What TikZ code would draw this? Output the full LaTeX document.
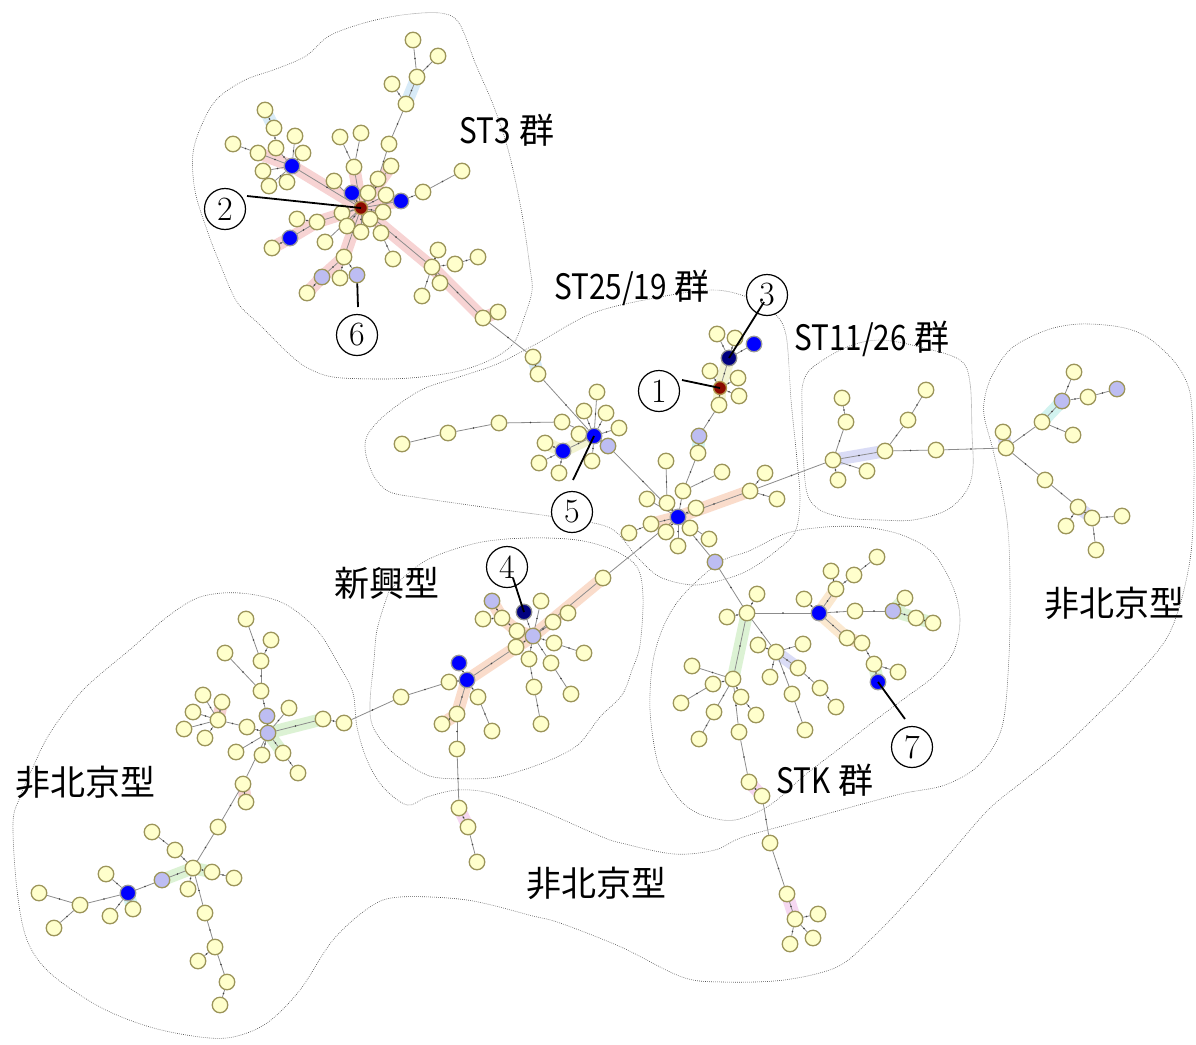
\documentclass[tikz,border=0pt]{standalone}
\usepackage{fontspec}
\newfontfamily\jp{Noto Sans CJK JP}
\newfontfamily\jplat[FakeStretch=0.85]{Noto Sans CJK JP}
\definecolor{ynfill}{HTML}{FFFFCC}
\definecolor{ynline}{HTML}{9C955A}
\definecolor{lavfill}{HTML}{BDBDF2}
\definecolor{navyfill}{HTML}{000080}
\definecolor{redfill}{HTML}{8B0A00}
\definecolor{hpink}{HTML}{F7D3D3}
\definecolor{hblue}{HTML}{D8EBF8}
\definecolor{hyel}{HTML}{F3F4D2}
\definecolor{hcyan}{HTML}{D2F3F0}
\definecolor{hpeach}{HTML}{FADCCB}
\definecolor{hlav}{HTML}{DADCF6}
\definecolor{hgreen}{HTML}{DCF2D4}
\definecolor{hmag}{HTML}{F6D8F2}
\definecolor{horange}{HTML}{FBE8CF}
\pgfdeclarelayer{bglayer}
\pgfdeclarelayer{hlayer}
\pgfdeclarelayer{elayer}
\pgfsetlayers{bglayer,hlayer,elayer,main}
\tikzset{
  yn/.style={circle,draw=ynline,fill=ynfill,line width=1.3pt,minimum size=15.5pt,inner sep=0pt},
  bn/.style={yn,draw=black!40,fill=blue},
  nvn/.style={yn,draw=black!45,fill=navyfill},
  rdn/.style={yn,draw=ynline!80!orange,fill=redfill,minimum size=13pt},
  lvn/.style={yn,fill=lavfill},
  edge/.style={draw=black!45,line width=0.8pt},
  dotm/.style={circle,fill=black!75,inner sep=0pt,minimum size=1.8pt},
  hlt/.style={line width=12.5pt,line cap=round},
  contour/.style={draw=black!70,line width=0.6pt,dash pattern=on 0.7pt off 1.3pt},
  grp/.style={font=\jp\fontsize{35}{35}\selectfont,inner sep=0pt},
  numc/.style={circle,draw,line width=1.2pt,minimum size=41pt,inner sep=0pt,fill=white,font=\fontsize{34}{34}\selectfont},
  lead/.style={draw=black,line width=1.8pt}
}
\begin{document}
\begin{tikzpicture}[x=1pt,y=-1pt]
\useasboundingbox (0,0) rectangle (1196,1044);
\begin{pgfonlayer}{bglayer}
\fill[white] (0,0) rectangle (1196,1044);
\end{pgfonlayer}
% ---------- nodes ----------
\foreach \n/\x/\y in {a1/413/40,a2/438/56,a3/417/77,a4/392/84,a5/406/104,a6/389/144,a7/265/110,a8/274/128,a9/233/144,a10/258/153,a11/276/148,a12/295/136,a13/303/153,a15/263/171,a16/287/182,a17/269/186,a18/340/137,a19/361/133,a20/354/167,a21/334/181,a23/368/193,a24/378/179,a25/391/166,a26/386/195,a28/423/192,a29/462/171,a30/342/213,a31/383/212,a32/370/219,a33/347/226,a34/361/232,a35/381/233,a36/317/222,a37/297/219,a39/272/248,a40/325/242,a41/393/259,a42/344/257,a44/340/278,a46/307/293,a47/432/267,a48/438/250,a49/455/264,a50/478/257,a51/440/283,a52/422/296,a53/483/318,a54/498/312,
b1/533/357,b2/538/374,b4/597/392,b5/584/411,b6/606/413,b7/562/422,b8/619/428,b9/579/434,b11/545/443,b13/592/461,b14/539/463,b15/559/473,b16/499/423,b17/448/433,b18/402/444,b20/717/334,b21/735/338,b24/710/371,b25/738/378,b27/739/396,b28/719/405,b30/698/453,b31/666/461,b32/722/472,b33/765/473,b34/683/491,b35/750/491,b36/777/499,b37/647/499,b38/667/503,b39/696/508,b41/651/524,b42/629/533,b43/666/532,b44/690/528,b45/678/546,b46/709/539,
c1/833/460,c2/885/451,c3/936/450,c4/908/420,c5/926/390,c6/846/422,c7/842/398,c8/867/471,c9/838/480,
r1/1006/448,r2/1003/432,r3/1042/422,r5/1074/372,r6/1088/397,r8/1073/435,r9/1045/480,r10/1078/507,r11/1092/518,r12/1122/516,r13/1066/526,r14/1096/550,
e1/603/578,e2/541/601,e5/568/613,e6/553/622,e7/502/618,e8/483/619,e9/517/631,e11/554/643,e12/584/653,e13/516/647,e14/529/659,e15/551/663,e18/449/682,e19/478/697,e20/401/697,e21/534/687,e22/571/694,e23/457/714,e24/442/724,e25/492/731,e26/541/724,e27/457/749,e28/459/808,e29/468/827,e30/477/862,
s1/747/613,s2/757/594,s3/727/617,s5/804/599,s6/836/589,s7/831/571,s8/854/575,s9/877/557,s10/855/611,s12/905/598,s13/916/618,s14/933/623,s15/847/638,s16/862/643,s17/874/664,s18/898/672,s20/776/652,s21/758/645,s22/803/644,s23/798/668,s24/820/688,s25/836/707,s26/770/677,s27/792/694,s28/805/730,s29/733/679,s30/692/666,s31/713/684,s32/681/703,s33/741/697,s34/756/715,s35/714/712,s36/699/739,s37/739/732,s38/749/782,s39/762/796,s40/770/843,s41/787/894,s42/795/919,s43/818/914,s44/813/938,s45/790/944,
L1/246/619,L2/271/640,L3/225/653,L4/261/661,L5/261/691,L6/203/695,L7/222/702,L8/193/712,L9/218/720,L10/184/729,L11/205/738,L12/247/727,L14/289/708,L16/323/719,L17/344/723,L18/236/752,L19/262/755,L20/283/753,L21/298/773,L22/243/784,L23/246/802,L24/218/827,L25/152/832,L26/175/850,L27/193/868,L28/212/872,L29/234/878,L31/188/889,L32/106/874,L34/39/893,L35/80/905,L36/133/909,L37/110/916,L38/54/928,L39/205/913,L40/215/947,L41/198/961,L42/227/982,L43/220/1005}
  \node[yn] (\n) at (\x,\y) {};
\foreach \n/\x/\y in {a14/292/166,a22/352/193,a27/401/201,a38/290/238,b3/594/436,b12/563/451,b22/754/344,b40/678/517,e16/459/663,e17/467/680,s4/819/613,s19/878/682,L33/128/893}
  \node[bn] (\n) at (\x,\y) {};
\foreach \n/\x/\y in {a43/322/277,a45/357/275,b10/608/446,b29/699/436,b47/715/562,r4/1062/401,r7/1117/389,e3/492/601,e10/533/636,s11/893/611,L13/267/716,L15/268/733,L30/162/880}
  \node[lvn] (\n) at (\x,\y) {};
\node[nvn] (b23) at (729,358) {};
\node[nvn] (e4) at (524,612) {};
\node[rdn] (a0) at (361,208) {};
\node[rdn] (b26) at (720,388) {};
% ---------- contours and highlights ----------
\begin{pgfonlayer}{hlayer}
\draw[contour] plot[smooth cycle,tension=0.55] coordinates {(440,13) (459,23) (476,65) (494,107) (509,153) (522,214) (530,268) (532,291) (524,318) (513,344) (490,360) (459,371) (421,377) (383,379) (333,377) (306,367) (287,352) (260,325) (237,302) (220,264) (207,230) (195,191) (193,153) (203,122) (218,98) (245,80) (276,69) (306,56) (329,36) (364,23) (402,15)};
\draw[contour] plot[smooth cycle,tension=0.55] coordinates {(367,436) (366,455) (375,478) (390,492) (421,498) (497,509) (555,517) (610,528) (637,557) (660,577) (693,585) (722,580) (749,570) (776,551) (795,532) (800,500) (797,460) (791,400) (786,335) (773,312) (747,297) (713,290) (660,297) (593,313) (536,344) (497,364) (459,377) (421,390) (385,415)};
\draw[contour] plot[smooth cycle,tension=0.55] coordinates {(803,383) (813,367) (847,347) (880,340) (920,347) (960,360) (970,383) (972,433) (973,467) (967,490) (947,510) (913,520) (880,520) (847,518) (820,510) (807,493) (803,450) (802,407)};
\draw[contour] plot[smooth cycle,tension=0.55] coordinates {(387,597) (393,587) (427,560) (477,543) (527,538) (577,540) (613,550) (637,567) (643,597) (640,645) (632,670) (622,695) (600,717) (580,743) (557,757) (523,770) (490,778) (440,778) (417,770) (390,750) (373,727) (370,703) (374,660) (377,630)};
\draw[contour] plot[smooth cycle,tension=0.55] coordinates {(684,594) (720,562) (749,551) (787,533) (826,527) (864,527) (902,535) (933,553) (953,587) (960,620) (953,653) (933,677) (905,698) (873,722) (840,748) (805,775) (770,805) (735,820) (705,816) (685,805) (668,784) (657,760) (650,710) (653,661) (665,623)};
\draw[contour] plot[smooth cycle,tension=0.55] coordinates {(200,597) (240,593) (283,603) (317,630) (340,667) (353,693) (357,727) (367,760) (383,787) (407,805) (427,797) (457,790) (490,793) (540,810) (600,836) (621,843) (674,854) (715,850) (743,837) (805,820) (866,803) (905,793) (945,785) (979,765) (1002,727) (1009,656) (1010,585) (1008,530) (1002,490) (993,450) (984,415) (986,392) (995,370) (1013,347) (1047,330) (1080,324) (1120,327) (1147,337) (1173,360) (1187,383) (1192,410) (1194,480) (1190,560) (1170,632) (1132,680) (1094,718) (1055,755) (1022,782) (988,810) (947,857) (906,903) (870,940) (837,967) (784,980) (723,982) (682,977) (621,947) (560,923) (533,916) (467,900) (400,897) (370,907) (333,940) (300,990) (267,1023) (233,1037) (200,1037) (150,1027) (100,1007) (50,973) (27,940) (17,890) (13,823) (20,797) (33,767) (50,733) (83,690) (133,647) (167,617)};
\foreach \u/\v/\c in {a0/a14/hpink,a14/a10/hpink,a0/a27/hpink,a0/a36/hpink,a36/a38/hpink,a38/a39/hpink,a0/a42/hpink,a42/a43/hpink,a43/a46/hpink,a0/a47/hpink,a47/a53/hpink,a53/a54/hpink,a0/a20/hpink,a0/a25/hpink,a5/a3/hblue,a7/a8/hblue,
b1/b2/hblue,b3/b12/hyel,b12/b11/hyel,b26/b23/hyel,b26/b28/hyel,b29/b30/hcyan,b41/b40/hpeach,b40/b35/hpeach,
c1/c2/hlav,r1/r2/hlav,r3/r4/hcyan,r10/r11/hlav,
e1/e10/hpeach,e10/e17/hpeach,e17/e23/hpeach,e23/e24/hpeach,e3/e7/hpeach,e7/e9/hpeach,e9/e10/hpeach,e28/e29/hmag,
s1/s29/hgreen,s20/s23/hlav,s4/s6/horange,s4/s15/horange,s15/s16/horange,s11/s13/hgreen,s13/s14/hgreen,s11/s12/hgreen,s17/s19/hgreen,s38/s39/hmag,s41/s42/hmag,
L15/L16/hgreen,L15/L20/hgreen,L9/L7/hpink,L22/L23/hpink,L30/L27/hgreen,L27/L28/hgreen,L33/L36/hcyan}
  \draw[hlt,draw=\c] (\u.center) -- (\v.center);
\end{pgfonlayer}
% ---------- edges ----------
\begin{pgfonlayer}{elayer}
\foreach \u/\v in {a0/a30,a0/a31,a0/a32,a0/a33,a0/a34,a0/a35,a0/a23,a0/a26,a0/a22,a0/a24,a0/a21,a0/a25,a0/a20,a0/a14,a0/a27,a0/a36,a0/a40,a0/a42,a0/a47,a24/a6,a6/a5,a5/a3,a3/a1,a3/a2,a5/a4,a20/a18,a20/a19,a27/a28,a28/a29,a14/a10,a10/a9,a14/a11,a11/a8,a8/a7,a14/a12,a14/a13,a14/a15,a14/a16,a14/a17,a36/a37,a36/a38,a38/a39,a35/a41,a42/a43,a43/a46,a42/a44,a42/a45,a47/a48,a47/a49,a49/a50,a47/a51,a47/a52,a47/a53,a53/a54,a53/b1,
b1/b2,b2/b3,b3/b4,b3/b5,b3/b6,b3/b7,b3/b8,b3/b9,b3/b10,b3/b12,b3/b13,b12/b11,b12/b14,b12/b15,b7/b16,b16/b17,b17/b18,b10/b40,b26/b23,b23/b20,b23/b21,b23/b22,b26/b24,b26/b25,b26/b27,b26/b28,b28/b29,b29/b30,b30/b34,b34/b40,b40/b38,b38/b31,b40/b37,b40/b39,b40/b41,b41/b42,b40/b43,b40/b44,b40/b45,b40/b35,b35/b33,b35/b36,b34/b32,b40/b46,b40/b47,b40/e1,b35/c1,b47/s1,
c1/c2,c2/c3,c2/c4,c4/c5,c1/c6,c6/c7,c1/c8,c1/c9,c3/r1,
r1/r2,r1/r3,r3/r4,r4/r5,r4/r6,r6/r7,r3/r8,r1/r9,r9/r10,r10/r11,r11/r12,r10/r13,r11/r14,
e10/e1,e10/e5,e10/e6,e10/e2,e10/e4,e10/e9,e9/e7,e7/e3,e7/e8,e10/e11,e11/e12,e10/e13,e13/e17,e10/e14,e14/e21,e21/e26,e10/e15,e15/e22,e17/e16,e17/e18,e18/e20,e17/e19,e19/e25,e17/e23,e23/e24,e23/e27,e27/e28,e28/e29,e29/e30,e20/L17,
s1/s2,s1/s3,s1/s4,s1/s29,s1/s20,s20/s21,s20/s22,s20/s23,s23/s24,s24/s25,s20/s27,s27/s28,s20/s26,s29/s30,s29/s31,s31/s32,s29/s33,s33/s34,s29/s35,s35/s36,s29/s37,s37/s38,s38/s39,s39/s40,s40/s41,s41/s42,s42/s43,s42/s44,s42/s45,s4/s5,s4/s6,s6/s7,s6/s8,s8/s9,s4/s10,s10/s11,s11/s12,s11/s13,s13/s14,s4/s15,s15/s16,s16/s17,s17/s19,s17/s18,
L15/L13,L13/L5,L5/L4,L4/L2,L4/L1,L3/L5,L15/L14,L15/L16,L16/L17,L15/L12,L12/L9,L9/L7,L9/L6,L9/L8,L9/L10,L9/L11,L15/L18,L15/L19,L15/L20,L20/L21,L15/L22,L22/L23,L22/L24,L24/L27,L27/L26,L26/L25,L27/L28,L28/L29,L27/L30,L30/L33,L27/L31,L27/L39,L39/L40,L40/L41,L40/L42,L42/L43,L33/L32,L33/L36,L33/L37,L33/L35,L35/L34,L35/L38}
  \draw[edge] (\u) -- node[dotm] {} (\v);
\end{pgfonlayer}
% ---------- group labels ----------
\node[grp] (g1) at (507,130) {{\jplat ST3} 群};
\node[grp] (g2) at (632,288) {{\jplat ST25/19} 群};
\node[grp] (g3) at (872,339) {{\jplat ST11/26} 群};
\node[grp] (g4) at (387,583) {新興型};
\node[grp] (g5) at (825,780) {{\jplat STK} 群};
\node[grp] (g6) at (1114,603) {非北京型};
\node[grp] (g7) at (86,782) {非北京型};
\node[grp] (g8) at (596,883) {非北京型};
% ---------- numbered callouts ----------
\node[numc] (n1) at (659,391) {1};
\node[numc] (n2) at (225,209) {2};
\node[numc] (n3) at (767,295) {3};
\node[numc] (n4) at (507,567) {4};
\node[numc] (n5) at (572,512) {5};
\node[numc] (n6) at (357,335) {6};
\node[numc] (n7) at (912,747) {7};
\coordinate (t1) at (682,380);
\coordinate (t2) at (247,196);
\coordinate (t3) at (764,302);
\coordinate (t4) at (513,578);
\coordinate (t5) at (573,480);
\coordinate (t6) at (358,307);
\coordinate (t7) at (905,719);
\draw[lead] (t1) -- (b26.center);
\draw[lead] (t2) -- (a0.center);
\draw[lead] (t3) -- (b23.center);
\draw[lead] (t4) -- (e4.center);
\draw[lead] (t5) -- (b3.center);
\draw[lead] (t6) -- (a45);
\draw[lead] (t7) -- (s19.center);
\end{tikzpicture}
\end{document}
